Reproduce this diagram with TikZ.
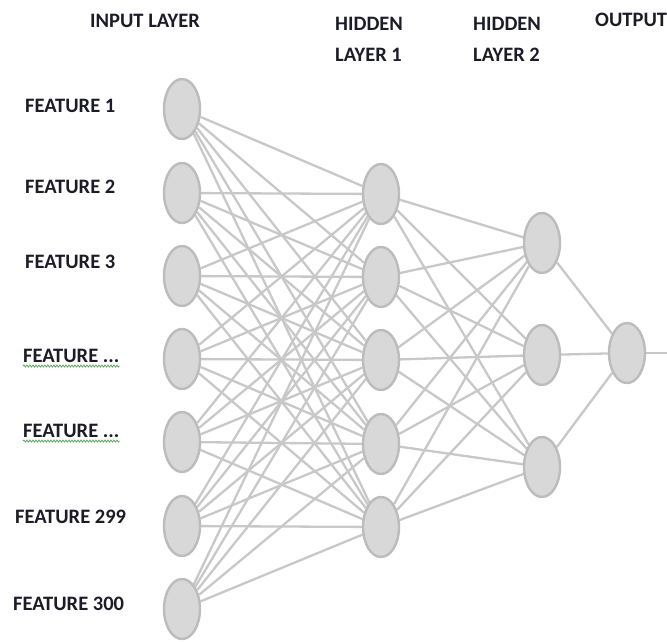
\documentclass[tikz,border=0pt]{standalone}
\usepackage{fontspec}
\setmainfont{Carlito}
\usetikzlibrary{shapes.geometric}
\usetikzlibrary{backgrounds}
\usetikzlibrary{decorations.pathmorphing}

\definecolor{nodefill}{RGB}{216,216,216}
\definecolor{nodeborder}{RGB}{188,188,188}
\definecolor{edgegray}{RGB}{200,200,200}
\definecolor{textcol}{RGB}{28,28,40}
\definecolor{spellgreen}{RGB}{90,170,90}

\begin{document}
\begin{tikzpicture}[x=1pt, y=-1pt,
    neuron/.style={ellipse, draw=nodeborder, fill=nodefill, line width=2.4pt,
                   minimum width=36pt, minimum height=60pt, inner sep=0pt},
    link/.style={draw=edgegray, line width=2.3pt},
    lbl/.style={anchor=base west, inner sep=0pt, text=textcol,
                font=\bfseries\fontsize{20.5}{31}\selectfont}]
            \useasboundingbox (0,0) rectangle (667,642);

            % layer titles
            \node[lbl] (tin) at (90,28) {INPUT LAYER};
            \node[lbl, align=left] (th1) at (335,62) {HIDDEN\\LAYER 1};
            \node[lbl, align=left] (th2) at (473,62) {HIDDEN\\LAYER 2};
            \node[lbl] (tout) at (595,27) {OUTPUT};

            % input layer
            \foreach \i/\y in {1/109, 2/193, 3/276, 4/359, 5/442, 6/526, 7/609} {
                \node[neuron] (in\i) at (182,\y) {};
            }

            % feature names
            \node[lbl] (f1) at (25,113) {FEATURE 1};
            \node[lbl] (f2) at (25,193) {FEATURE 2};
            \node[lbl] (f3) at (25,268) {FEATURE 3};
            \node[lbl] (f4) at (23,362) {FEATURE ...};
            \node[lbl] (f5) at (23,437) {FEATURE ...};
            \node[lbl] (f6) at (15,523) {FEATURE 299};
            \node[lbl] (f7) at (13,610) {FEATURE 300};

            % spell check underline
            \foreach \f in {f4, f5} {
                \draw[spellgreen, line width=0.8pt, decorate,
                      decoration={snake, amplitude=1pt, segment length=3pt}]
                    ([yshift=-4pt]\f.base west) -- ([yshift=-4pt]\f.base east);
            }

            % hidden layer 1
            \foreach \j/\y in {1/194, 2/277, 3/360, 4/444, 5/527} {
                \node[neuron] (ha\j) at (381,\y) {};
            }

            % hidden layer 2
            \foreach \k/\y in {1/243, 2/355, 3/467} {
                \node[neuron] (hb\k) at (542,\y) {};
            }

            % output
            \node[neuron] (out) at (627,353) {};
            \coordinate (tail) at (667,353);

            % connections
            \begin{scope}[on background layer]
                \foreach \i in {1,...,7} {
                    \foreach \j in {1,...,5} {
                        \draw[link] (in\i) -- (ha\j);
                    }
                }
                \foreach \j in {1,...,5} {
                    \foreach \k in {1,...,3} {
                        \draw[link] (ha\j) -- (hb\k);
                    }
                }
                \foreach \k in {1,...,3} {
                    \draw[link] (hb\k) -- (out);
                }
                \draw[link] (out) -- (tail);
            \end{scope}

        \end{tikzpicture}
\end{document}
